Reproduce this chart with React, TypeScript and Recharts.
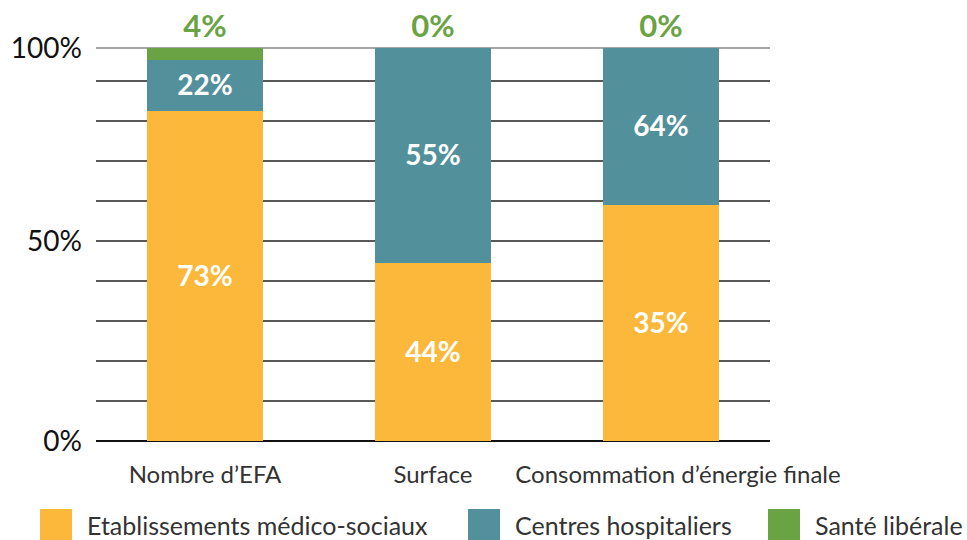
import { BarChart, Bar, XAxis, YAxis, CartesianGrid, Legend, LabelList } from 'recharts'

document.body.style.margin = '0'

const categories = ['Nombre d’EFA', 'Surface', 'Consommation d’énergie finale']
// bar heights as drawn (axis units: one grid step = 10)
const medicoSociaux = [82.5, 44.5, 59]
const hospitaliers = [12.75, 53.75, 39.25]
const liberale = [3, 0, 0]
// printed labels
const medicoLabels = ['73%', '44%', '35%']
const hospLabels = ['22%', '55%', '64%']
const libLabels = ['4%', '0%', '0%']
const yTicks = [0, 10, 20, 30, 40, 50, 60, 70, 80, 90, 98.25]
const yTickLabels: Record<string, string> = { '0': '0%', '50': '50%', '98.25': '100%' }

const seriesNames = ['Etablissements médico-sociaux', 'Centres hospitaliers', 'Santé libérale']
const colors = ['#FBB83A', '#52909C', '#6AA343']

const FONT = 'Lato, "Open Sans", sans-serif'
const legendWidths = [428, 300, 190]

const chartData = categories.map((c, i) => ({
    name: c,
    medico: medicoSociaux[i],
    hosp: hospitaliers[i],
    lib: liberale[i],
    medicoLabel: medicoLabels[i],
    hospLabel: hospLabels[i],
    libLabel: libLabels[i],
}))

const XTick = (props: any) => {
    const { x, y, payload, index } = props
    const shift = index === categories.length - 1 ? 17 : 0
    return (
        <text x={x + shift} y={y + 40} textAnchor="middle" fill="#333" fontSize={24} fontFamily={FONT}>
            {payload.value}
        </text>
    )
}

const gridLine = (props: any) => {
    const { x1, x2, y1, index } = props
    const isTop = y1 < 60
    const isBottom = y1 > 430
    return (
        <line
            key={`g-${index}-${y1}`}
            x1={x1 + 5}
            x2={x2 - 5}
            y1={y1}
            y2={y1}
            stroke={isTop ? '#8a8a8a' : isBottom ? '#111' : '#222'}
            strokeWidth={isBottom ? 2 : 1.5}
        />
    )
}

const renderLegend = () => (
    <div style={{ display: 'flex', alignItems: 'center', paddingLeft: 40, paddingTop: 7, fontFamily: FONT, height: 44, whiteSpace: 'nowrap' }}>
        {seriesNames.map((n, i) => (
            <div key={n} style={{ display: 'flex', alignItems: 'center', width: legendWidths[i], flex: 'none' }}>
                <div style={{ width: 32, height: 32, background: colors[i], marginRight: 15, flex: 'none' }} />
                <span style={{ fontSize: 25, color: '#333' }}>{n}</span>
            </div>
        ))}
    </div>
)

export default function App() {
    return (
        <div style={{ width: 967, height: 540, background: '#fff', overflow: 'hidden' }}>
            <BarChart
                width={967}
                height={540}
                data={chartData}
                margin={{ top: 48, right: 192, bottom: 0, left: 0 }}
                barSize={116}
            >
                <CartesianGrid vertical={false} horizontal={gridLine} />
                <XAxis
                    dataKey="name"
                    height={55}
                    axisLine={false}
                    tickLine={false}
                    tickSize={0}
                    tick={<XTick />}
                    interval={0}
                />
                <YAxis
                    width={91}
                    domain={[0, 98.25]}
                    ticks={yTicks}
                    interval={0}
                    axisLine={false}
                    tickLine={false}
                    tickSize={0}
                    tickMargin={9}
                    tickFormatter={(v: number) => yTickLabels[String(v)] ?? ''}
                    tick={{ fill: '#111', fontSize: 28, fontFamily: FONT }}
                />
                <Legend
                    verticalAlign="bottom"
                    height={44}
                    content={renderLegend}
                    wrapperStyle={{ left: 0, width: 967 }}
                />
                <Bar dataKey="medico" stackId="a" fill={colors[0]} isAnimationActive={false}>
                    <LabelList dataKey="medicoLabel" position="center" fill="#fff" fontSize={28} fontWeight={700} fontFamily={FONT} />
                </Bar>
                <Bar dataKey="hosp" stackId="a" fill={colors[1]} isAnimationActive={false}>
                    <LabelList dataKey="hospLabel" position="center" fill="#fff" fontSize={28} fontWeight={700} fontFamily={FONT} />
                </Bar>
                <Bar dataKey="lib" stackId="a" fill={colors[2]} minPointSize={0.1} isAnimationActive={false}>
                    <LabelList dataKey="libLabel" position="top" offset={11} fill={colors[2]} fontSize={31} fontWeight={700} fontFamily={FONT} />
                </Bar>
            </BarChart>
        </div>
    )
}
